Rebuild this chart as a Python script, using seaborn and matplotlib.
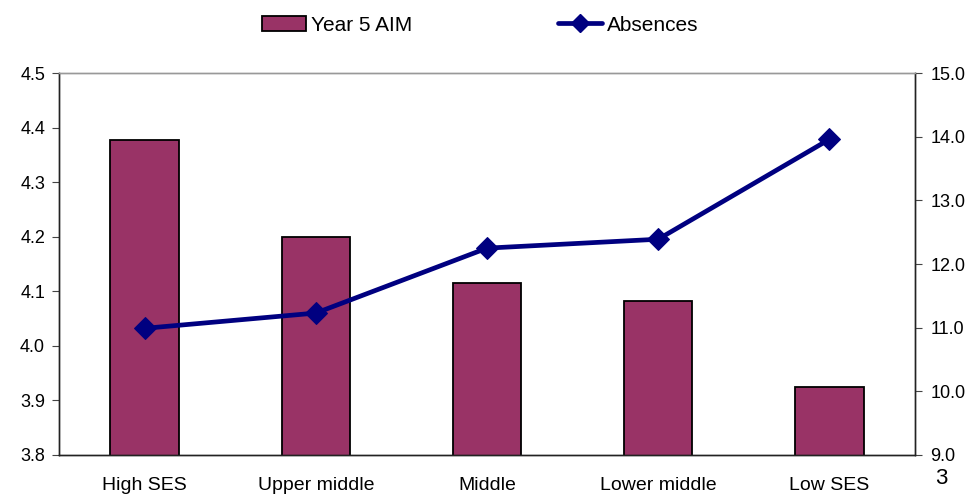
import numpy as np
import pandas as pd
import matplotlib
matplotlib.use("Agg")
import matplotlib.pyplot as plt
import seaborn as sns
from matplotlib.lines import Line2D
from matplotlib.patches import Patch

categories = ["High SES", "Upper middle", "Middle", "Lower middle", "Low SES"]
aim_scores = [4.378, 4.200, 4.115, 4.082, 3.925]
absences = [10.99, 11.23, 12.25, 12.39, 13.96]
left_ticks = [3.8, 3.9, 4.0, 4.1, 4.2, 4.3, 4.4, 4.5]
right_ticks = [9.0, 10.0, 11.0, 12.0, 13.0, 14.0, 15.0]

sns.set_style("white")
plt.rcParams["font.family"] = ["Liberation Sans", "DejaVu Sans"]
plt.rcParams["font.size"] = 13
plt.rcParams["text.color"] = "black"
plt.rcParams["xtick.color"] = "black"
plt.rcParams["ytick.color"] = "black"

BAR = "#993366"
LINE = "#000080"

df = pd.DataFrame({"group": categories, "aim": aim_scores,
                   "pos": np.arange(len(categories)), "absences": absences})

fig = plt.figure(figsize=(9.75, 4.94), dpi=100)
ax = fig.add_axes([0.0605, 0.079, 0.878, 0.773])

sns.barplot(data=df, x="group", y="aim", color=BAR, width=0.4,
            edgecolor="black", linewidth=1.3, saturation=1, ax=ax)
ax.set_ylim(3.8, 4.5)
ax.set_yticks(left_ticks)
ax.set_yticklabels([f"{t:.1f}" for t in left_ticks], fontsize=13)
ax.set_xlim(-0.5, len(categories) - 0.5)
ax.set_xlabel("")
ax.set_ylabel("")

# category separators along the x axis
ax.set_xticks(np.arange(len(categories)))
ax.set_xticklabels(categories, fontsize=14)
ax.set_xticks(np.arange(-0.5, len(categories)), minor=True)
ax.tick_params(axis="x", which="major", length=0, pad=16)
ax.tick_params(axis="x", which="minor", length=6, width=0.8, color="#444444", direction="out")
ax.tick_params(axis="y", length=5, width=0.8, color="#444444", labelcolor="black",
               direction="out", pad=5, left=True)

ax2 = ax.twinx()
sns.lineplot(data=df, x="pos", y="absences", color=LINE, linewidth=3.4,
             marker="D", markersize=11, markeredgecolor=LINE, ax=ax2)
ax2.set_ylim(9.0, 15.0)
ax2.set_yticks(right_ticks)
ax2.set_yticklabels([f"{t:.1f}" for t in right_ticks], fontsize=13)
ax2.set_xlim(-0.5, len(categories) - 0.5)
ax2.set_ylabel("")
ax2.tick_params(axis="y", length=5, width=0.8, color="#444444", labelcolor="black",
                direction="out", pad=6, right=True)

for a in (ax, ax2):
    for side in ("left", "bottom", "right"):
        a.spines[side].set_color("#222222")
        a.spines[side].set_linewidth(1.0)
    a.spines["top"].set_color("#999999")
    a.spines["top"].set_linewidth(1.0)

handles = [Patch(facecolor=BAR, edgecolor="black", linewidth=1.3),
           Line2D([0], [0], color=LINE, linewidth=3.4, marker="D", markersize=9)]
fig.legend(handles, ["Year 5 AIM", "Absences"], loc="center", bbox_to_anchor=(0.493, 0.949),
           ncol=2, frameon=False, fontsize=15, handlelength=2.1, handletextpad=0.25,
           columnspacing=7.0)

fig.text(0.965, 0.032, "3", fontsize=16, ha="center", va="center")

fig.savefig("out.png", dpi=100)
